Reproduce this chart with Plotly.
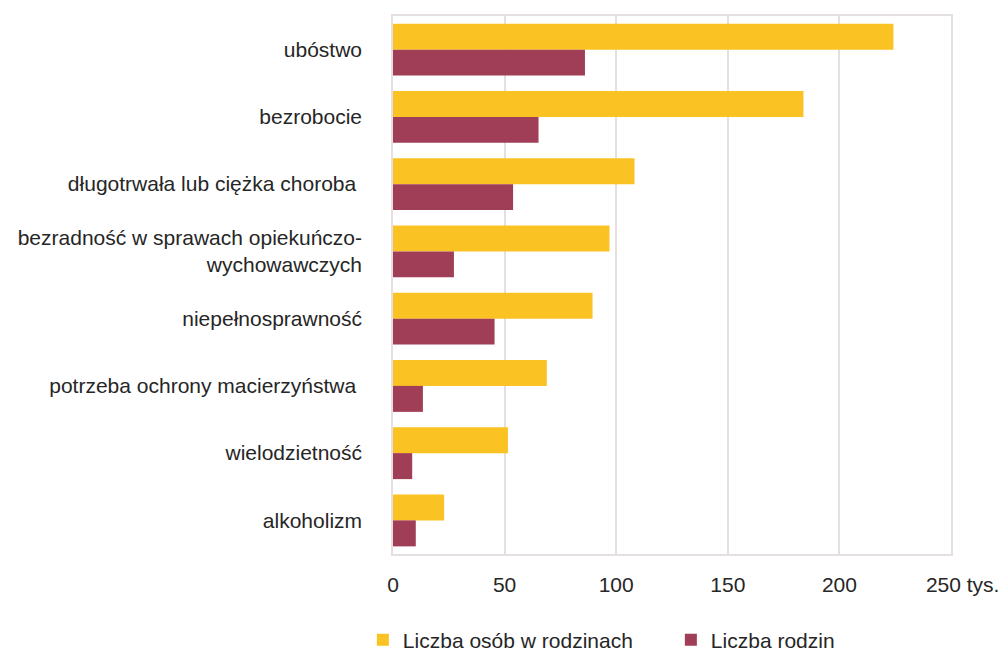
import plotly.graph_objects as go

categories = [
    "ubóstwo",
    "bezrobocie",
    "długotrwała lub ciężka choroba\u00a0",
    "bezradność w sprawach opiekuńczo-<br>wychowawczych",
    "niepełnosprawność",
    "potrzeba ochrony macierzyństwa\u00a0",
    "wielodzietność",
    "alkoholizm",
]
osoby = [224.2, 183.9, 108.2, 97.0, 89.4, 68.9, 51.5, 22.9]
rodziny = [86.0, 65.2, 53.8, 27.3, 45.5, 13.4, 8.6, 10.2]
x_ticks = [0, 50, 100, 150, 200, 250]
x_ticktext = ["0", "50", "100", "150", "200", "\u00a0\u00a0\u00a0\u00a0250 tys."]

FONT = "Liberation Sans, Arial, sans-serif"
TXT = "#262626"
GRID = "#e6dfdf"

fig = go.Figure()
fig.add_trace(go.Bar(y=categories, x=osoby, orientation="h", name="Liczba osób w rodzinach",
                     marker=dict(color="#FBC223", line=dict(width=0))))
fig.add_trace(go.Bar(y=categories, x=rodziny, orientation="h", name="Liczba rodzin",
                     marker=dict(color="#A03D57", line=dict(width=0))))

fig.update_layout(
    width=1001, height=651,
    margin=dict(l=393, r=50, t=16, b=97, autoexpand=False),
    paper_bgcolor="white", plot_bgcolor="white",
    barmode="group", bargap=0.227, bargroupgap=0,
    font=dict(family=FONT, size=21, color=TXT),
    showlegend=True,
    legend=dict(orientation="h", x=-0.054, xanchor="left", y=-0.16, yanchor="middle",
                font=dict(size=21, color=TXT), entrywidth=263, itemwidth=30),
    xaxis=dict(range=[0, 250], tickvals=x_ticks, ticktext=x_ticktext,
               showgrid=True, gridcolor=GRID, gridwidth=1.5,
               showline=True, linecolor=GRID, linewidth=1.5, mirror=True,
               ticks="", ticklabelstandoff=11, zeroline=False, fixedrange=True,
               automargin=False),
    yaxis=dict(autorange="reversed", showgrid=False,
               showline=True, linecolor=GRID, linewidth=1.5, mirror=True,
               ticks="", ticklabelstandoff=25, fixedrange=True, automargin=False),
)

fig.write_html("out.html", config={"displayModeBar": False},
               post_script="document.body.style.margin='0';")
